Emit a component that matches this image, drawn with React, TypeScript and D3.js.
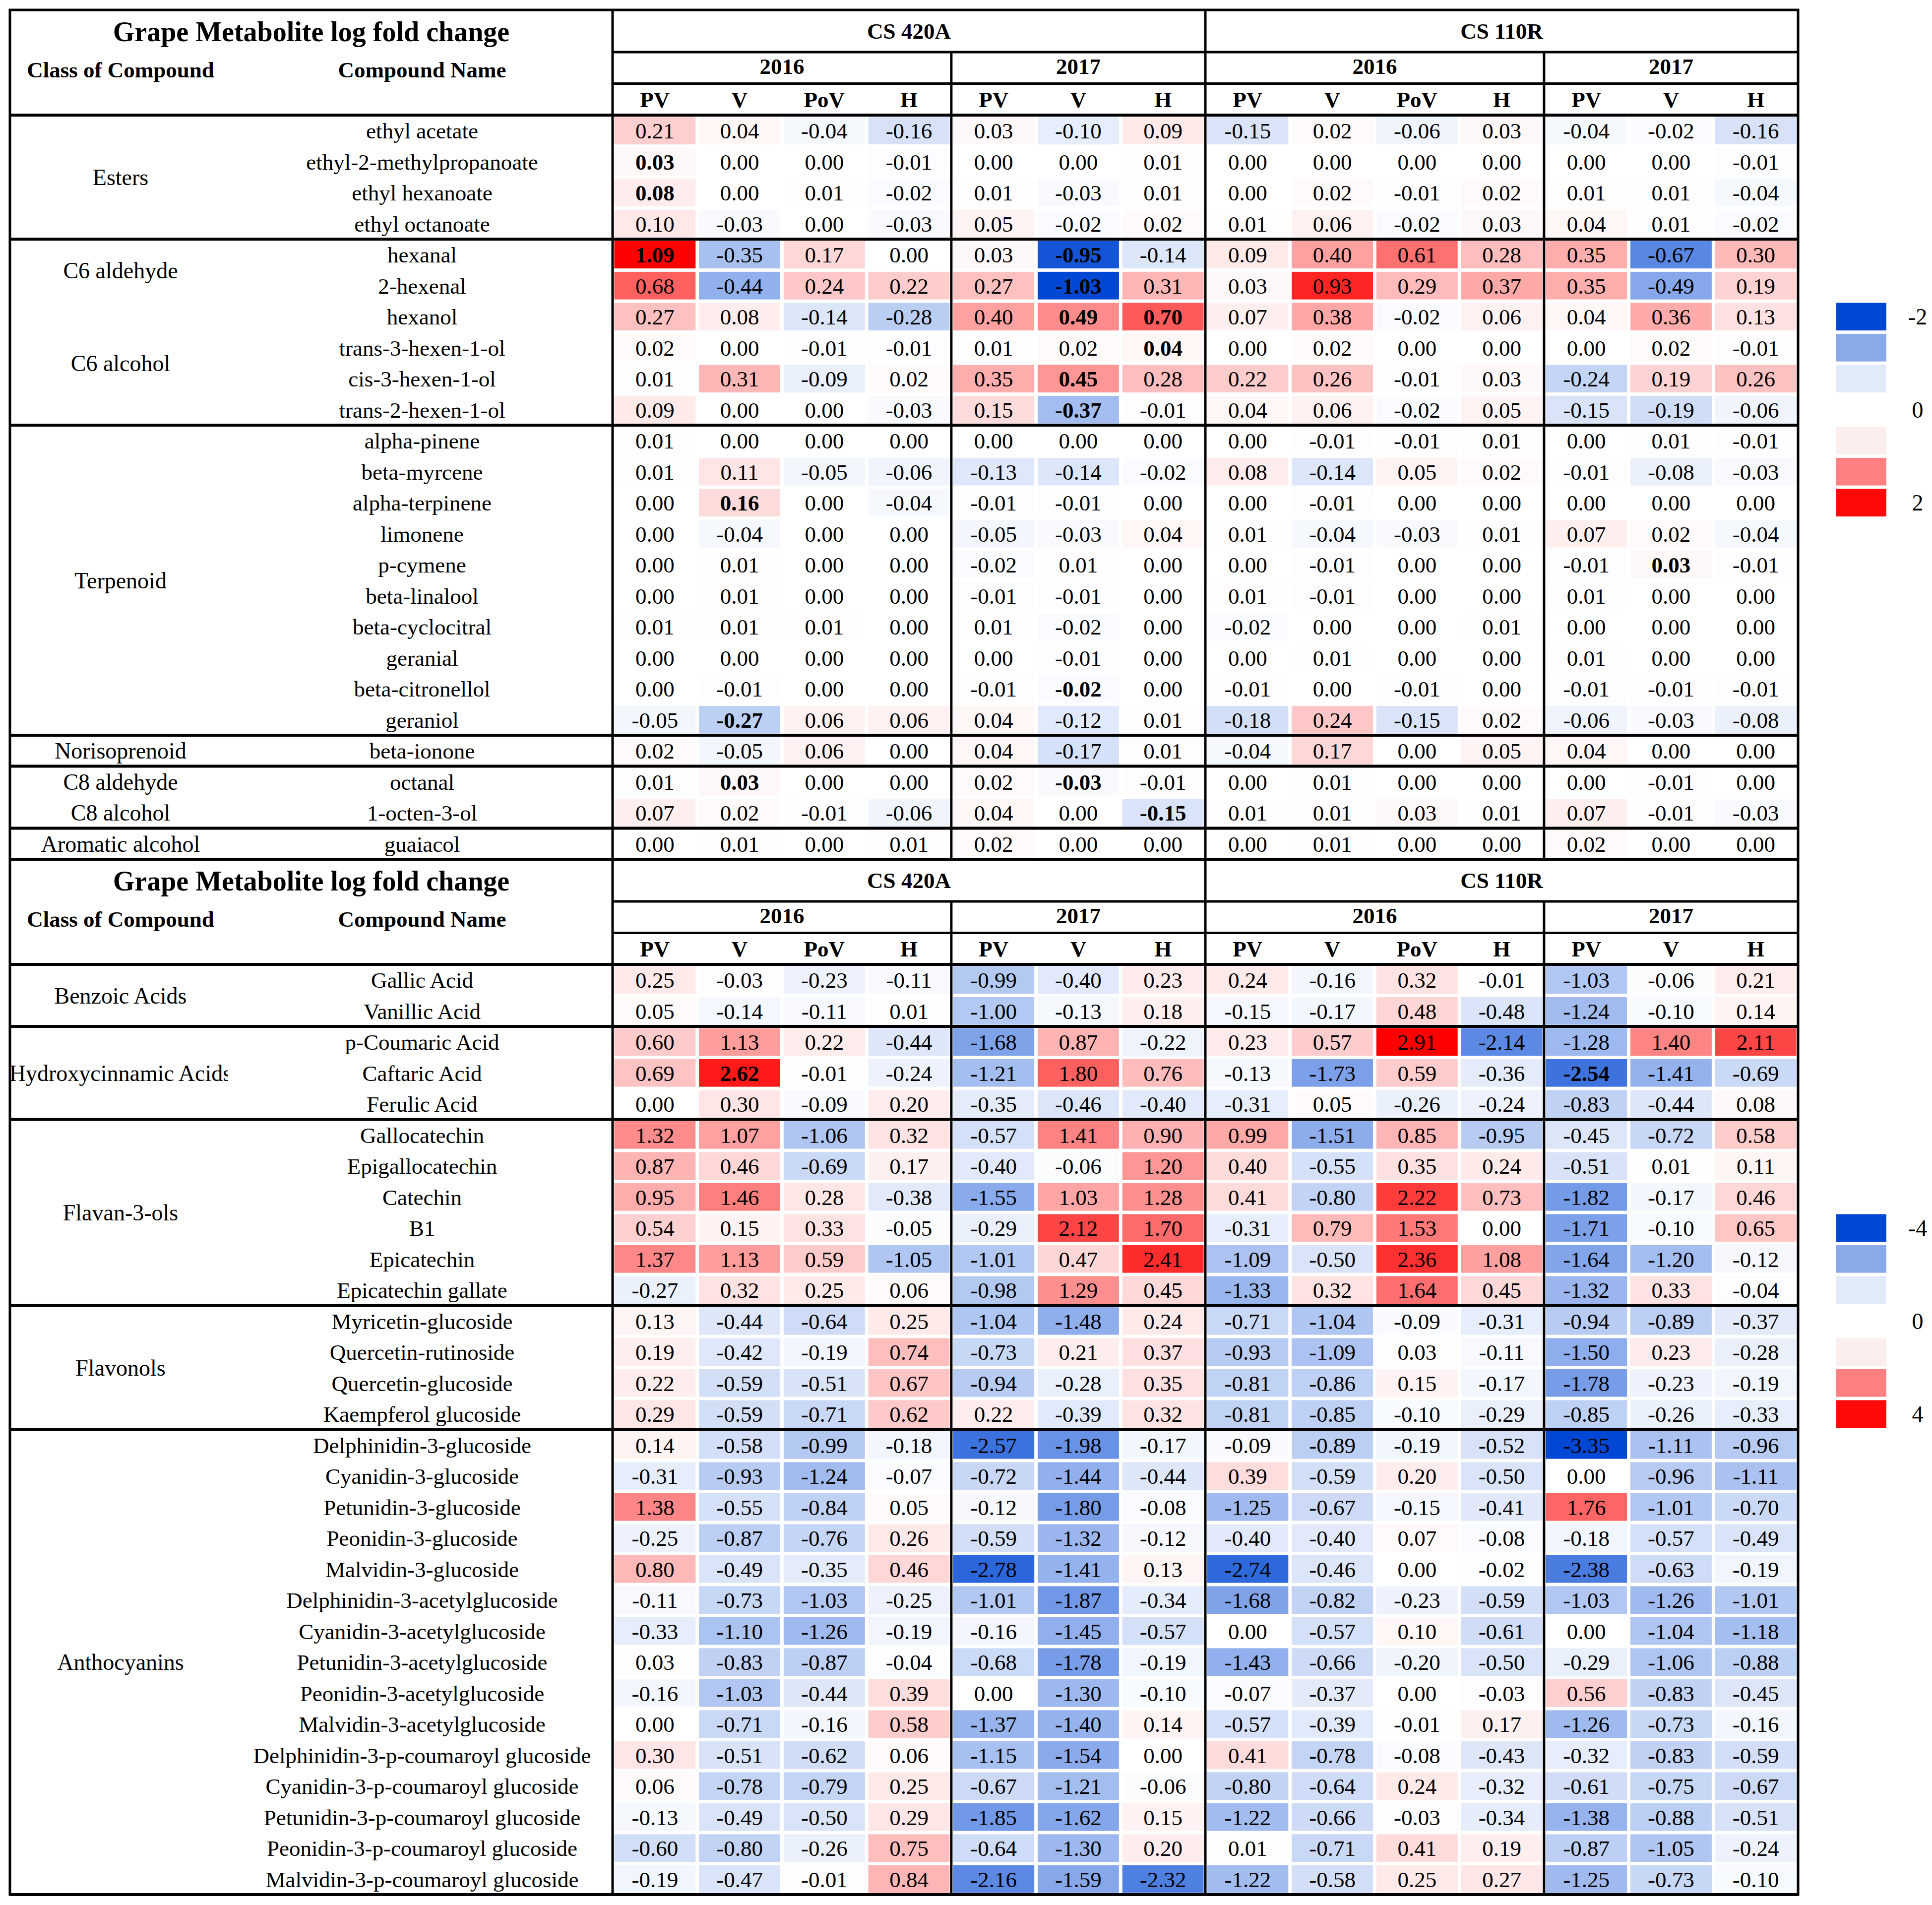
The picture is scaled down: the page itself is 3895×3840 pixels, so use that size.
import React from "react";
import * as d3 from "d3";

// ---------- DATA ----------
const colGroups = ["CS 420A", "CS 110R"];
const yearLabels = ["2016", "2017", "2016", "2017"];
const yearSpans = [4, 3, 4, 3];
const colLabels = ["PV", "V", "PoV", "H", "PV", "V", "H", "PV", "V", "PoV", "H", "PV", "V", "H"];

const classes1 = ["Esters", "C6 aldehyde", "C6 alcohol", "Terpenoid", "Norisoprenoid", "C8 aldehyde", "C8 alcohol", "Aromatic alcohol"];
const classSizes1 = [4, 2, 4, 10, 1, 1, 1, 1];
const blocks1 = [4, 6, 10, 1, 2, 1];
const compounds1 = [
  "ethyl acetate", "ethyl-2-methylpropanoate", "ethyl hexanoate", "ethyl octanoate",
  "hexanal", "2-hexenal", "hexanol", "trans-3-hexen-1-ol", "cis-3-hexen-1-ol", "trans-2-hexen-1-ol",
  "alpha-pinene", "beta-myrcene", "alpha-terpinene", "limonene", "p-cymene", "beta-linalool",
  "beta-cyclocitral", "geranial", "beta-citronellol", "geraniol",
  "beta-ionone", "octanal", "1-octen-3-ol", "guaiacol",
];
const values1 = [
  [0.21, 0.04, -0.04, -0.16, 0.03, -0.10, 0.09, -0.15, 0.02, -0.06, 0.03, -0.04, -0.02, -0.16],
  [0.03, 0.00, 0.00, -0.01, 0.00, 0.00, 0.01, 0.00, 0.00, 0.00, 0.00, 0.00, 0.00, -0.01],
  [0.08, 0.00, 0.01, -0.02, 0.01, -0.03, 0.01, 0.00, 0.02, -0.01, 0.02, 0.01, 0.01, -0.04],
  [0.10, -0.03, 0.00, -0.03, 0.05, -0.02, 0.02, 0.01, 0.06, -0.02, 0.03, 0.04, 0.01, -0.02],
  [1.09, -0.35, 0.17, 0.00, 0.03, -0.95, -0.14, 0.09, 0.40, 0.61, 0.28, 0.35, -0.67, 0.30],
  [0.68, -0.44, 0.24, 0.22, 0.27, -1.03, 0.31, 0.03, 0.93, 0.29, 0.37, 0.35, -0.49, 0.19],
  [0.27, 0.08, -0.14, -0.28, 0.40, 0.49, 0.70, 0.07, 0.38, -0.02, 0.06, 0.04, 0.36, 0.13],
  [0.02, 0.00, -0.01, -0.01, 0.01, 0.02, 0.04, 0.00, 0.02, 0.00, 0.00, 0.00, 0.02, -0.01],
  [0.01, 0.31, -0.09, 0.02, 0.35, 0.45, 0.28, 0.22, 0.26, -0.01, 0.03, -0.24, 0.19, 0.26],
  [0.09, 0.00, 0.00, -0.03, 0.15, -0.37, -0.01, 0.04, 0.06, -0.02, 0.05, -0.15, -0.19, -0.06],
  [0.01, 0.00, 0.00, 0.00, 0.00, 0.00, 0.00, 0.00, -0.01, -0.01, 0.01, 0.00, 0.01, -0.01],
  [0.01, 0.11, -0.05, -0.06, -0.13, -0.14, -0.02, 0.08, -0.14, 0.05, 0.02, -0.01, -0.08, -0.03],
  [0.00, 0.16, 0.00, -0.04, -0.01, -0.01, 0.00, 0.00, -0.01, 0.00, 0.00, 0.00, 0.00, 0.00],
  [0.00, -0.04, 0.00, 0.00, -0.05, -0.03, 0.04, 0.01, -0.04, -0.03, 0.01, 0.07, 0.02, -0.04],
  [0.00, 0.01, 0.00, 0.00, -0.02, 0.01, 0.00, 0.00, -0.01, 0.00, 0.00, -0.01, 0.03, -0.01],
  [0.00, 0.01, 0.00, 0.00, -0.01, -0.01, 0.00, 0.01, -0.01, 0.00, 0.00, 0.01, 0.00, 0.00],
  [0.01, 0.01, 0.01, 0.00, 0.01, -0.02, 0.00, -0.02, 0.00, 0.00, 0.01, 0.00, 0.00, 0.00],
  [0.00, 0.00, 0.00, 0.00, 0.00, -0.01, 0.00, 0.00, 0.01, 0.00, 0.00, 0.01, 0.00, 0.00],
  [0.00, -0.01, 0.00, 0.00, -0.01, -0.02, 0.00, -0.01, 0.00, -0.01, 0.00, -0.01, -0.01, -0.01],
  [-0.05, -0.27, 0.06, 0.06, 0.04, -0.12, 0.01, -0.18, 0.24, -0.15, 0.02, -0.06, -0.03, -0.08],
  [0.02, -0.05, 0.06, 0.00, 0.04, -0.17, 0.01, -0.04, 0.17, 0.00, 0.05, 0.04, 0.00, 0.00],
  [0.01, 0.03, 0.00, 0.00, 0.02, -0.03, -0.01, 0.00, 0.01, 0.00, 0.00, 0.00, -0.01, 0.00],
  [0.07, 0.02, -0.01, -0.06, 0.04, 0.00, -0.15, 0.01, 0.01, 0.03, 0.01, 0.07, -0.01, -0.03],
  [0.00, 0.01, 0.00, 0.01, 0.02, 0.00, 0.00, 0.00, 0.01, 0.00, 0.00, 0.02, 0.00, 0.00],
];
const bold1 = [[1, 0], [2, 0], [4, 0], [4, 5], [5, 5], [6, 5], [6, 6], [7, 6], [8, 5], [9, 5], [12, 1], [14, 12], [18, 5], [19, 1], [21, 1], [21, 5], [22, 6]];

const classes2 = ["Benzoic Acids", "Hydroxycinnamic Acids", "Flavan-3-ols", "Flavonols", "Anthocyanins"];
const classSizes2 = [2, 3, 6, 4, 15];
const blocks2 = [2, 3, 6, 4, 15];
const compounds2 = [
  "Gallic Acid", "Vanillic Acid", "p-Coumaric Acid", "Caftaric Acid", "Ferulic Acid",
  "Gallocatechin", "Epigallocatechin", "Catechin", "B1", "Epicatechin", "Epicatechin gallate",
  "Myricetin-glucoside", "Quercetin-rutinoside", "Quercetin-glucoside", "Kaempferol glucoside",
  "Delphinidin-3-glucoside", "Cyanidin-3-glucoside", "Petunidin-3-glucoside", "Peonidin-3-glucoside",
  "Malvidin-3-glucoside", "Delphinidin-3-acetylglucoside", "Cyanidin-3-acetylglucoside",
  "Petunidin-3-acetylglucoside", "Peonidin-3-acetylglucoside", "Malvidin-3-acetylglucoside",
  "Delphinidin-3-p-coumaroyl glucoside", "Cyanidin-3-p-coumaroyl glucoside",
  "Petunidin-3-p-coumaroyl glucoside", "Peonidin-3-p-coumaroyl glucoside", "Malvidin-3-p-coumaroyl glucoside",
];
const values2 = [
  [0.25, -0.03, -0.23, -0.11, -0.99, -0.40, 0.23, 0.24, -0.16, 0.32, -0.01, -1.03, -0.06, 0.21],
  [0.05, -0.14, -0.11, 0.01, -1.00, -0.13, 0.18, -0.15, -0.17, 0.48, -0.48, -1.24, -0.10, 0.14],
  [0.60, 1.13, 0.22, -0.44, -1.68, 0.87, -0.22, 0.23, 0.57, 2.91, -2.14, -1.28, 1.40, 2.11],
  [0.69, 2.62, -0.01, -0.24, -1.21, 1.80, 0.76, -0.13, -1.73, 0.59, -0.36, -2.54, -1.41, -0.69],
  [0.00, 0.30, -0.09, 0.20, -0.35, -0.46, -0.40, -0.31, 0.05, -0.26, -0.24, -0.83, -0.44, 0.08],
  [1.32, 1.07, -1.06, 0.32, -0.57, 1.41, 0.90, 0.99, -1.51, 0.85, -0.95, -0.45, -0.72, 0.58],
  [0.87, 0.46, -0.69, 0.17, -0.40, -0.06, 1.20, 0.40, -0.55, 0.35, 0.24, -0.51, 0.01, 0.11],
  [0.95, 1.46, 0.28, -0.38, -1.55, 1.03, 1.28, 0.41, -0.80, 2.22, 0.73, -1.82, -0.17, 0.46],
  [0.54, 0.15, 0.33, -0.05, -0.29, 2.12, 1.70, -0.31, 0.79, 1.53, 0.00, -1.71, -0.10, 0.65],
  [1.37, 1.13, 0.59, -1.05, -1.01, 0.47, 2.41, -1.09, -0.50, 2.36, 1.08, -1.64, -1.20, -0.12],
  [-0.27, 0.32, 0.25, 0.06, -0.98, 1.29, 0.45, -1.33, 0.32, 1.64, 0.45, -1.32, 0.33, -0.04],
  [0.13, -0.44, -0.64, 0.25, -1.04, -1.48, 0.24, -0.71, -1.04, -0.09, -0.31, -0.94, -0.89, -0.37],
  [0.19, -0.42, -0.19, 0.74, -0.73, 0.21, 0.37, -0.93, -1.09, 0.03, -0.11, -1.50, 0.23, -0.28],
  [0.22, -0.59, -0.51, 0.67, -0.94, -0.28, 0.35, -0.81, -0.86, 0.15, -0.17, -1.78, -0.23, -0.19],
  [0.29, -0.59, -0.71, 0.62, 0.22, -0.39, 0.32, -0.81, -0.85, -0.10, -0.29, -0.85, -0.26, -0.33],
  [0.14, -0.58, -0.99, -0.18, -2.57, -1.98, -0.17, -0.09, -0.89, -0.19, -0.52, -3.35, -1.11, -0.96],
  [-0.31, -0.93, -1.24, -0.07, -0.72, -1.44, -0.44, 0.39, -0.59, 0.20, -0.50, 0.00, -0.96, -1.11],
  [1.38, -0.55, -0.84, 0.05, -0.12, -1.80, -0.08, -1.25, -0.67, -0.15, -0.41, 1.76, -1.01, -0.70],
  [-0.25, -0.87, -0.76, 0.26, -0.59, -1.32, -0.12, -0.40, -0.40, 0.07, -0.08, -0.18, -0.57, -0.49],
  [0.80, -0.49, -0.35, 0.46, -2.78, -1.41, 0.13, -2.74, -0.46, 0.00, -0.02, -2.38, -0.63, -0.19],
  [-0.11, -0.73, -1.03, -0.25, -1.01, -1.87, -0.34, -1.68, -0.82, -0.23, -0.59, -1.03, -1.26, -1.01],
  [-0.33, -1.10, -1.26, -0.19, -0.16, -1.45, -0.57, 0.00, -0.57, 0.10, -0.61, 0.00, -1.04, -1.18],
  [0.03, -0.83, -0.87, -0.04, -0.68, -1.78, -0.19, -1.43, -0.66, -0.20, -0.50, -0.29, -1.06, -0.88],
  [-0.16, -1.03, -0.44, 0.39, 0.00, -1.30, -0.10, -0.07, -0.37, 0.00, -0.03, 0.56, -0.83, -0.45],
  [0.00, -0.71, -0.16, 0.58, -1.37, -1.40, 0.14, -0.57, -0.39, -0.01, 0.17, -1.26, -0.73, -0.16],
  [0.30, -0.51, -0.62, 0.06, -1.15, -1.54, 0.00, 0.41, -0.78, -0.08, -0.43, -0.32, -0.83, -0.59],
  [0.06, -0.78, -0.79, 0.25, -0.67, -1.21, -0.06, -0.80, -0.64, 0.24, -0.32, -0.61, -0.75, -0.67],
  [-0.13, -0.49, -0.50, 0.29, -1.85, -1.62, 0.15, -1.22, -0.66, -0.03, -0.34, -1.38, -0.88, -0.51],
  [-0.60, -0.80, -0.26, 0.75, -0.64, -1.30, 0.20, 0.01, -0.71, 0.41, 0.19, -0.87, -1.05, -0.24],
  [-0.19, -0.47, -0.01, 0.84, -2.16, -1.59, -2.32, -1.22, -0.58, 0.25, 0.27, -1.25, -0.73, -0.10],
];
const bold2 = [[3, 1], [3, 11]];

const legendColors = ["#0047d4", "#8aa9e8", "#e1eaf8", "#ffffff", "#fdeeee", "#ff8080", "#ff0808"];
const legendLabels1 = ["-2", "", "", "0", "", "", "2"];
const legendLabels2 = ["-4", "", "", "0", "", "", "4"];

// ---------- LAYOUT ----------
const W = 3895;
const H = 3840;
const LEFT = 20;
const NAME_RIGHT = 1235;
const RIGHT = 3625;
const HEADER_H = 212;
const CS_H = 85;
const YEAR_H = 63.5;
const ROW_H = 62.5;
const CLASS_CX = 243;
const NAME_CX = 851;
const INSET = 3.4;
const FONT = "'Liberation Serif', 'Times New Roman', serif";

const x = d3.scaleBand<number>().domain(d3.range(14)).range([NAME_RIGHT, RIGHT]);

function Panel({ top, classes, classSizes, blocks, compounds, values, bold, legendStart, legendLabels, clipId }: any) {
  const n = compounds.length;
  const dataTop = top + HEADER_H;
  const y = d3.scaleBand<number>().domain(d3.range(n)).range([dataTop, dataTop + n * ROW_H]);
  const flat = values.flat();
  const mn = d3.min(flat) as number;
  const mx = d3.max(flat) as number;
  const color = d3.scaleLinear<string>().domain([mn, 0, mx]).range(["#0047d4", "#ffffff", "#ff0000"]).interpolate(d3.interpolateRgb);
  const boldSet = new Set(bold.map((b: number[]) => b[0] + "_" + b[1]));
  const bottom = dataTop + n * ROW_H;
  const ys = (i: number) => (y(i) as number);

  let acc = 0;
  const classPos = classSizes.map((s: number) => {
    const c = ys(acc) + (s * ROW_H) / 2;
    acc += s;
    return c;
  });
  let bacc = 0;
  const seps = blocks.map((s: number) => {
    bacc += s;
    return dataTop + bacc * ROW_H;
  });

  let yacc = 0;
  const years = yearSpans.map((s, i) => {
    const x0 = x(yacc) as number;
    const x1 = (x(yacc + s - 1) as number) + x.bandwidth();
    yacc += s;
    return { label: yearLabels[i], x0, x1 };
  });
  const csLineY = top + CS_H;
  const yrLineY = top + CS_H + YEAR_H;

  return (
    <g>
      {values.map((row: number[], r: number) =>
        row.map((v: number, c: number) => (
          <rect key={`r${r}_${c}`} x={(x(c) as number) + INSET} y={ys(r) + INSET}
            width={x.bandwidth() - 2 * INSET} height={y.bandwidth() - 2 * INSET} fill={color(v)} />
        ))
      )}
      {values.map((row: number[], r: number) =>
        row.map((v: number, c: number) => (
          <text key={`t${r}_${c}`} x={(x(c) as number) + x.bandwidth() / 2} y={ys(r) + y.bandwidth() / 2}
            dy="0.35em" textAnchor="middle" fontSize={45} fontFamily={FONT}
            fontWeight={boldSet.has(r + "_" + c) ? "bold" : "normal"}>{v.toFixed(2)}</text>
        ))
      )}
      {compounds.map((name: string, r: number) => (
        <text key={`n${r}`} x={NAME_CX} y={ys(r) + y.bandwidth() / 2} dy="0.35em" textAnchor="middle"
          fontSize={45} fontFamily={FONT}>{name}</text>
      ))}
      <g clipPath={`url(#${clipId})`}>
        {classes.map((cl: string, i: number) => (
          <text key={`c${i}`} x={CLASS_CX} y={classPos[i]} dy="0.35em" textAnchor="middle"
            fontSize={46} fontFamily={FONT}>{cl}</text>
        ))}
      </g>
      <text x={(LEFT + NAME_RIGHT) / 2} y={top + 43} dy="0.35em" textAnchor="middle" fontSize={56}
        fontWeight="bold" fontFamily={FONT}>Grape Metabolite log fold change</text>
      <text x={CLASS_CX} y={top + 120} dy="0.35em" textAnchor="middle" fontSize={45}
        fontWeight="bold" fontFamily={FONT}>Class of Compound</text>
      <text x={NAME_CX} y={top + 120} dy="0.35em" textAnchor="middle" fontSize={45}
        fontWeight="bold" fontFamily={FONT}>Compound Name</text>
      {colGroups.map((g, i) => {
        const x0 = x(i * 7) as number;
        const x1 = (x(i * 7 + 6) as number) + x.bandwidth();
        return (
          <text key={`g${i}`} x={(x0 + x1) / 2} y={top + CS_H / 2} dy="0.35em" textAnchor="middle"
            fontSize={45} fontWeight="bold" fontFamily={FONT}>{g}</text>
        );
      })}
      {years.map((yr, i) => (
        <text key={`y${i}`} x={(yr.x0 + yr.x1) / 2} y={csLineY + YEAR_H / 2 - 4} dy="0.35em" textAnchor="middle"
          fontSize={45} fontWeight="bold" fontFamily={FONT}>{yr.label}</text>
      ))}
      {colLabels.map((lab, c) => (
        <text key={`h${c}`} x={(x(c) as number) + x.bandwidth() / 2} y={yrLineY + (HEADER_H - CS_H - YEAR_H) / 2}
          dy="0.35em" textAnchor="middle" fontSize={45} fontWeight="bold" fontFamily={FONT}>{lab}</text>
      ))}
      {legendColors.map((col, i) => (
        <g key={`l${i}`}>
          <rect x={3702} y={ys(legendStart + i) + INSET} width={101} height={y.bandwidth() - 2 * INSET} fill={col} />
          {legendLabels[i] ? (
            <text x={3866} y={ys(legendStart + i) + y.bandwidth() / 2} dy="0.35em" textAnchor="middle"
              fontSize={46} fontFamily={FONT}>{legendLabels[i]}</text>
          ) : null}
        </g>
      ))}
      <g stroke="#000" fill="none">
        <line x1={NAME_RIGHT} x2={RIGHT} y1={csLineY} y2={csLineY} strokeWidth={5} />
        <line x1={NAME_RIGHT} x2={RIGHT} y1={yrLineY} y2={yrLineY} strokeWidth={5} />
        <line x1={LEFT} x2={RIGHT} y1={dataTop} y2={dataTop} strokeWidth={6} />
        {seps.map((sy: number, i: number) => (
          <line key={`s${i}`} x1={LEFT} x2={RIGHT} y1={sy} y2={sy} strokeWidth={6} />
        ))}
        <line x1={NAME_RIGHT} x2={NAME_RIGHT} y1={top} y2={bottom} strokeWidth={5} />
        <line x1={x(7) as number} x2={x(7) as number} y1={top} y2={bottom} strokeWidth={5} />
        <line x1={x(4) as number} x2={x(4) as number} y1={csLineY} y2={bottom} strokeWidth={5} />
        <line x1={x(11) as number} x2={x(11) as number} y1={csLineY} y2={bottom} strokeWidth={5} />
      </g>
    </g>
  );
}

export default function App() {
  const top1 = 20;
  const top2 = top1 + HEADER_H + compounds1.length * ROW_H;
  const bottom = top2 + HEADER_H + compounds2.length * ROW_H;
  return (
    <div style={{ position: "absolute", left: 0, top: 0, background: "#fff" }}>
      <svg width={W} height={H} viewBox={`0 0 ${W} ${H}`} style={{ display: "block", background: "#fff" }}>
        <defs>
          <clipPath id="clsClip1"><rect x={LEFT + 2} y={0} width={460 - LEFT - 2} height={H} /></clipPath>
          <clipPath id="clsClip2"><rect x={LEFT + 2} y={0} width={460 - LEFT - 2} height={H} /></clipPath>
        </defs>
        <rect x={0} y={0} width={W} height={H} fill="#fff" />
        <Panel top={top1} classes={classes1} classSizes={classSizes1} blocks={blocks1} compounds={compounds1}
          values={values1} bold={bold1} legendStart={6} legendLabels={legendLabels1} clipId="clsClip1" />
        <Panel top={top2} classes={classes2} classSizes={classSizes2} blocks={blocks2} compounds={compounds2}
          values={values2} bold={bold2} legendStart={8} legendLabels={legendLabels2} clipId="clsClip2" />
        <rect x={LEFT} y={top1} width={RIGHT - LEFT} height={bottom - top1} fill="none" stroke="#000" strokeWidth={5} />
      </svg>
    </div>
  );
}
